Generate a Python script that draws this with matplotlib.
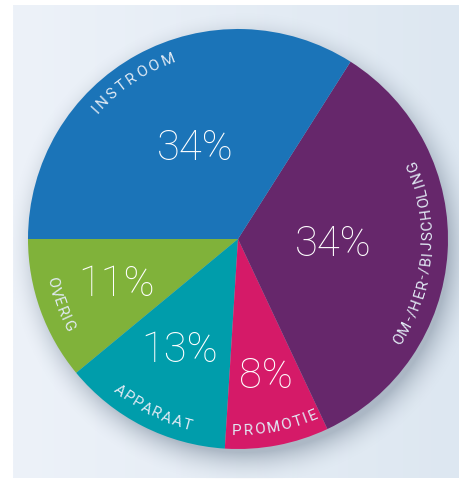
import numpy as np
import matplotlib.pyplot as plt
from matplotlib.font_manager import FontProperties
from matplotlib.textpath import text_to_path

# slices, counter-clockwise starting at 9 o'clock
labels = ['OVERIG', 'APPARAAT', 'PROMOTIE', 'OM-/HER-/BIJSCHOLING', 'INSTROOM']
values = [11, 13, 8, 34, 34]
colors = ['#80b23a', '#009dab', '#d51a68', '#66276b', '#1b74b8']

W, H = 460, 479
CX, CY, R = 238, 239, 210  # pie centre / radius in pixels

fig = plt.figure(figsize=(W / 100, H / 100), dpi=100)
ax = fig.add_axes([0, 0, 1, 1])
ax.set_axis_off()

xl = (-CX / R, (W - CX) / R)
yl = ((CY - H) / R, CY / R)

# background panel with soft horizontal gradient
grad = np.linspace(0, 1, 256).reshape(1, -1)
c0 = np.array([0xed, 0xf2, 0xf9]) / 255
c1 = np.array([0xdd, 0xe7, 0xf1]) / 255
bg = c0[None, None, :] * (1 - grad[..., None]) + c1[None, None, :] * grad[..., None]
ax.imshow(bg, extent=((13 - CX) / R, (W - CX) / R, (CY - 478) / R, (CY - 5) / R),
          aspect='auto', zorder=0, interpolation='bilinear')

# drop shadow around the pie
yy, xx = np.mgrid[0:H, 0:W]
d = np.hypot(xx - (CX + 6), yy - (CY + 9))
a = np.clip(1 - (d - R + 6) / 34, 0, 1) ** 2 * 0.6
a[d < R - 6] = 0.6
sh = np.zeros((H, W, 4))
sh[..., :3] = np.array([0x8a, 0x98, 0xa8]) / 255
sh[..., 3] = a
sh[:5, :] = 0
sh[:, :13] = 0
ax.imshow(sh, extent=(xl[0], xl[1], yl[0], yl[1]), zorder=1, aspect='auto')

wedges, _ = ax.pie(values, colors=colors, startangle=180, counterclock=True,
                   radius=1, wedgeprops=dict(linewidth=0, antialiased=True))
for w in wedges:
    w.set_zorder(2)

ax.set_xlim(*xl)
ax.set_ylim(*yl)
ax.set_aspect('auto')

big = FontProperties(family=['Roboto', 'DejaVu Sans'], weight='light', size=30)
small = FontProperties(family=['Roboto', 'DejaVu Sans'], weight='normal', size=11)


def px(x, y):
    return (x - CX) / R, (CY - y) / R


# percentage labels (pixel positions)
pct_pos = [(117, 285), (180, 350), (266, 376), (333, 244), (195, 148)]
for v, (x, y) in zip(values, pct_pos):
    ax.text(*px(x, y), f'{v}%', fontproperties=big, color='white',
            ha='center', va='center', zorder=5)


def arc_text(text, r_px, mid_deg, span_deg, outward):
    widths = [text_to_path.get_text_width_height_descent(ch, small, ismath=False)[0]
              * 100 / 72 for ch in text]
    natural = sum(widths)
    target = np.radians(span_deg) * r_px
    extra = (target - natural) / max(len(text) - 1, 1)
    total = natural + extra * (len(text) - 1)
    pos = -total / 2
    for ch, w in zip(text, widths):
        s = pos + w / 2
        if outward:
            th = np.radians(mid_deg) - s / r_px
            rot = np.degrees(th) - 90
        else:
            th = np.radians(mid_deg) + s / r_px
            rot = np.degrees(th) + 90
        x = r_px * np.cos(th) / R
        y = r_px * np.sin(th) / R
        ax.text(x, y, ch, fontproperties=small, color='#e2ebf5',
                ha='center', va='center', rotation=rot, rotation_mode='anchor', zorder=5)
        pos += w + extra


# name labels along the rim: radius px, mid angle, span, letters facing out
arc_text('INSTROOM', 192, 123.9, 29, True)
arc_text('OM-/HER-/BIJSCHOLING', 190, -4.6, 58, False)
arc_text('OVERIG', 191, 200, 17, False)
arc_text('APPARAAT', 193, 243.2, 25.5, False)
arc_text('PROMOTIE', 192, 281.2, 26, False)

fig.savefig('out.png', dpi=100, facecolor='white')
